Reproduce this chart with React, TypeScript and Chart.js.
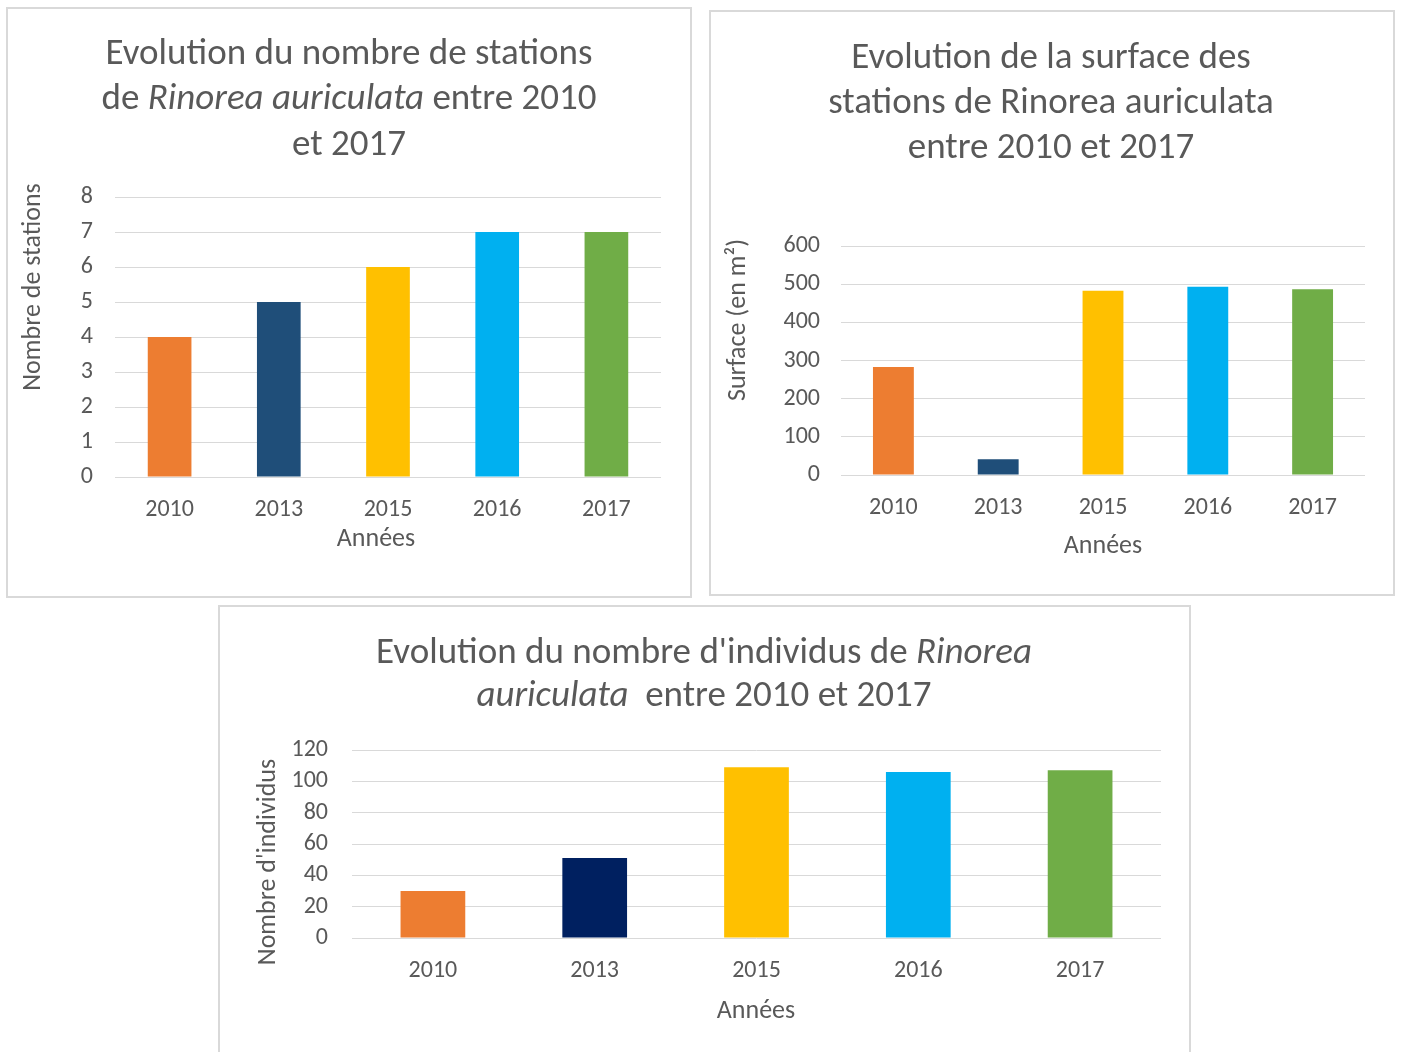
import React, { useEffect, useRef } from 'react';
import { Chart, registerables } from 'chart.js';

Chart.register(...registerables);

// ---------- DATA ----------
const years = ['2010', '2013', '2015', '2016', '2017'];
const stationCounts = [4, 5, 6, 7, 7];
const surfaceM2 = [283, 41, 483, 493, 487];
const individualCounts = [30, 51, 109, 106, 107];

const stationsAxis = { max: 8, step: 1 };
const surfaceAxis = { max: 600, step: 100 };
const individualsAxis = { max: 120, step: 20 };

const colorsA = ['#ED7D31', '#1F4E79', '#FFC000', '#00B0F0', '#70AD47'];
const colorsB = ['#ED7D31', '#002060', '#FFC000', '#00B0F0', '#70AD47'];

type Seg = { t: string; i?: boolean };

const title1: Seg[][] = [
  [{ t: 'Evolution du nombre de stations' }],
  [{ t: 'de ' }, { t: 'Rinorea auriculata', i: true }, { t: ' entre 2010' }],
  [{ t: 'et 2017' }],
];
const title2: Seg[][] = [
  [{ t: 'Evolution de la surface des' }],
  [{ t: 'stations de Rinorea auriculata' }],
  [{ t: 'entre 2010 et 2017' }],
];
const title3: Seg[][] = [
  [{ t: "Evolution du nombre d'individus de " }, { t: 'Rinorea', i: true }],
  [{ t: 'auriculata', i: true }, { t: '  entre 2010 et 2017' }],
];
const xTitle = 'Années';
const yTitle1 = 'Nombre de stations';
const yTitle2 = 'Surface (en m²)';
const yTitle3 = "Nombre d'individus";

// ---------- STYLE ----------
const FONT = 'Carlito, Lato, "Open Sans", sans-serif';
const TEXT = '#595959';
const GRID = '#d9d9d9';
const TITLE_SIZE = 37;
const AXIS_TITLE_SIZE = 26;
const TICK_SIZE = 24;

type TextItem = { segs: Seg[]; x: number; y: number; size: number; rot?: number };

const textPlugin = {
  id: 'panelText',
  afterDraw(chart: any, _args: any, opts: any) {
    const ctx = chart.ctx as CanvasRenderingContext2D;
    for (const item of (opts.items || []) as TextItem[]) {
      ctx.save();
      ctx.translate(item.x, item.y);
      if (item.rot) ctx.rotate(item.rot);
      ctx.fillStyle = TEXT;
      ctx.textBaseline = 'middle';
      ctx.textAlign = 'left';
      const fonts = item.segs.map((s) => `${s.i ? 'italic ' : ''}${item.size}px ${FONT}`);
      const widths = item.segs.map((s, k) => {
        ctx.font = fonts[k];
        return ctx.measureText(s.t).width;
      });
      const total = widths.reduce((a, b) => a + b, 0);
      let cx = -total / 2;
      item.segs.forEach((s, k) => {
        ctx.font = fonts[k];
        ctx.fillText(s.t, cx, 0);
        cx += widths[k];
      });
      ctx.restore();
    }
  },
};

type PanelSpec = {
  left: number; top: number; width: number; height: number; noBottom?: boolean;
  values: number[]; colors: string[]; axis: { max: number; step: number };
  barPct: number; plotTop: number; rightPad: number; yWidth: number; xHeight: number;
  xTickPad: number; yTickPad: number;
  title: Seg[][]; titleX: number; titleYs: number[];
  yTitle: string; yTitlePos: [number, number];
  xTitlePos: [number, number];
};

function Panel({ spec }: { spec: PanelSpec }) {
  const ref = useRef<HTMLCanvasElement | null>(null);
  const cw = spec.width - 4;
  const ch = spec.height - (spec.noBottom ? 2 : 4);
  useEffect(() => {
    if (!ref.current) return;
    const items: TextItem[] = [];
    spec.title.forEach((line, k) =>
      items.push({ segs: line, x: spec.titleX, y: spec.titleYs[k], size: TITLE_SIZE })
    );
    items.push({ segs: [{ t: spec.yTitle }], x: spec.yTitlePos[0], y: spec.yTitlePos[1], size: AXIS_TITLE_SIZE, rot: -Math.PI / 2 });
    items.push({ segs: [{ t: xTitle }], x: spec.xTitlePos[0], y: spec.xTitlePos[1], size: AXIS_TITLE_SIZE });
    const chart = new Chart(ref.current, {
      type: 'bar',
      data: {
        labels: years,
        datasets: [
          {
            data: spec.values,
            backgroundColor: spec.colors,
            borderWidth: 0,
            barPercentage: spec.barPct,
            categoryPercentage: 1,
          },
        ],
      },
      options: {
        animation: false,
        responsive: false,
        layout: { padding: { top: spec.plotTop, right: spec.rightPad, left: 0, bottom: 0 } },
        plugins: {
          legend: { display: false },
          tooltip: { enabled: false },
          title: { display: false },
          panelText: { items },
        } as any,
        scales: {
          x: {
            grid: { display: false, drawTicks: false },
            border: { display: false },
            ticks: { color: TEXT, font: { family: FONT, size: TICK_SIZE }, padding: spec.xTickPad, autoSkip: false, maxRotation: 0 },
            afterFit: (s: any) => { s.height = spec.xHeight; },
          },
          y: {
            min: 0,
            max: spec.axis.max,
            grid: { color: GRID, lineWidth: 1, drawTicks: false },
            border: { display: false },
            ticks: {
              color: TEXT,
              font: { family: FONT, size: TICK_SIZE, lineHeight: 1 },
              stepSize: spec.axis.step,
              padding: spec.yTickPad,
              autoSkip: false,
            },
            afterFit: (s: any) => { s.width = spec.yWidth; },
          },
        },
      },
      plugins: [textPlugin],
    });
    return () => chart.destroy();
  }, []);
  return (
    <div
      style={{
        position: 'absolute',
        left: spec.left,
        top: spec.top,
        width: spec.width,
        height: spec.height,
        boxSizing: 'border-box',
        border: '2px solid #d9d9d9',
        borderBottom: spec.noBottom ? 'none' : '2px solid #d9d9d9',
        background: '#fff',
      }}
    >
      <canvas ref={ref} width={cw} height={ch} style={{ display: 'block', width: cw, height: ch }} />
    </div>
  );
}

const panels: PanelSpec[] = [
  {
    left: 6, top: 7, width: 686, height: 591,
    values: stationCounts, colors: colorsA, axis: stationsAxis, barPct: 0.4,
    plotTop: 188, rightPad: 29, yWidth: 107, xHeight: 119, xTickPad: 19, yTickPad: 22,
    title: title1, titleX: 341, titleYs: [46, 91, 137],
    yTitle: yTitle1, yTitlePos: [25, 278], xTitlePos: [368, 530],
  },
  {
    left: 709, top: 10, width: 686, height: 586,
    values: surfaceM2, colors: colorsA, axis: surfaceAxis, barPct: 0.39,
    plotTop: 234, rightPad: 28, yWidth: 130, xHeight: 119, xTickPad: 19, yTickPad: 21,
    title: title2, titleX: 340, titleYs: [47, 92, 137],
    yTitle: yTitle2, yTitlePos: [27, 308], xTitlePos: [392, 534],
  },
  {
    left: 218, top: 605, width: 973, height: 447, noBottom: true,
    values: individualCounts, colors: colorsB, axis: individualsAxis, barPct: 0.4,
    plotTop: 143, rightPad: 28, yWidth: 132, xHeight: 114, xTickPad: 19, yTickPad: 24,
    title: title3, titleX: 484, titleYs: [47, 90],
    yTitle: yTitle3, yTitlePos: [48, 255], xTitlePos: [536, 404],
  },
];

export default function App() {
  return (
    <div>
      {panels.map((p, k) => (
        <Panel key={k} spec={p} />
      ))}
    </div>
  );
}
